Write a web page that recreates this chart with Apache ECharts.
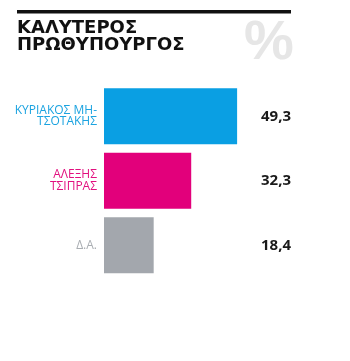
<!DOCTYPE html>
<html><head><meta charset="utf-8">
<script src="https://cdn.jsdelivr.net/npm/echarts@6/dist/echarts.min.js"></script>
<style>html,body{margin:0;padding:0;background:#fff}#c{width:350px;height:361px}</style>
</head><body><div id="c"></div>
<script>
const categories = ['ΚΥΡΙΑΚΟΣ ΜΗ-\nΤΣΟΤΑΚΗΣ', 'ΑΛΕΞΗΣ\nΤΣΙΠΡΑΣ', 'Δ.Α.'];
const values = [49.3, 32.3, 18.4];
const barColors = ['#0a9fe3', '#e2007b', '#a3a7ad'];
const labelColors = ['#1ba3e0', '#e2107f', '#a9adb2'];
const titleLines = ['ΚΑΛΥΤΕΡΟΣ', 'ΠΡΩΘΥΠΟΥΡΓΟΣ'];

const chart = echarts.init(document.getElementById('c'), null, {renderer: 'canvas'});
chart.setOption({
  backgroundColor: '#fff',
  animation: false,
  graphic: [
    {type: 'rect', shape: {x: 17, y: 10, width: 274, height: 3.5}, style: {fill: '#111'}},
    {type: 'text', left: 244, top: 16, style: {text: '%', font: 'bold 56px "Liberation Sans", Arial, sans-serif', fill: '#e6e6e6'}},
    {type: 'text', left: 17, top: 19, style: {text: titleLines.join('\n'), font: '900 18px "DejaVu Sans", sans-serif', lineHeight: 17.5, fill: '#111'}}
  ],
  grid: {left: 104, width: 189, top: 84, height: 193.5},
  xAxis: {type: 'value', min: 0, max: 70, show: false},
  yAxis: [
    {type: 'category', data: categories, inverse: true,
     axisLine: {show: false}, axisTick: {show: false},
     axisLabel: {margin: 7, fontSize: 12, lineHeight: 11.5, fontFamily: '"Open Sans", sans-serif',
       color: (v, i) => labelColors[i]}},
    {type: 'category', data: values.map(v => v.toFixed(1).replace('.', ',')), inverse: true, position: 'right',
     axisLine: {show: false}, axisTick: {show: false},
     axisLabel: {inside: true, margin: 2, fontSize: 15, fontWeight: 'bold', color: '#1a1a1a', fontFamily: '"Open Sans", sans-serif'}}
  ],
  series: [{
    type: 'bar', data: values.map((v, i) => ({value: v, itemStyle: {color: barColors[i]}})),
    barWidth: 56
  }]
});
</script></body></html>
